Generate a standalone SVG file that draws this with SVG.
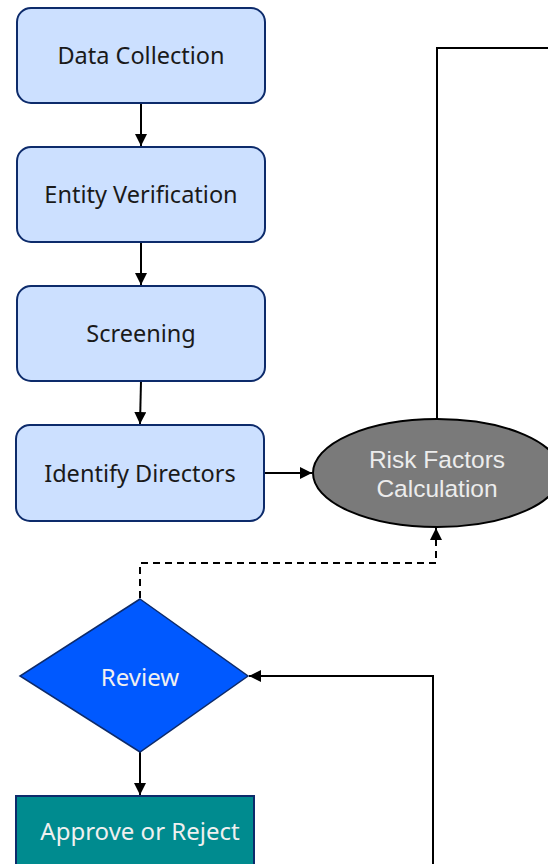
<svg xmlns="http://www.w3.org/2000/svg" width="548" height="864" viewBox="0 0 548 864">
<style>
.box{fill:#cce0ff;stroke:#0d2b6b;stroke-width:2}
.t{font-family:"Noto Sans","Liberation Sans",Arial,sans-serif;font-size:23.5px;text-anchor:middle;dominant-baseline:central}
.dk{fill:#1a1a1a}
.lt{fill:#f0f0f0;font-size:24px}
.el{font-family:"Liberation Sans",Arial,sans-serif;font-size:24.5px;fill:#ececec}
.c{fill:none;stroke:#000;stroke-width:2}
.d{stroke-dasharray:7,5}
</style>
<defs>
<marker id="ah" markerWidth="12" markerHeight="12" refX="12" refY="6" orient="auto" markerUnits="userSpaceOnUse"><path d="M0,0 L12,6 L0,12 z" fill="#000"/></marker>
</defs>
<rect width="548" height="864" fill="#fff"/>
<g id="connectors">
<line class="c" x1="141" y1="103" x2="141" y2="146" marker-end="url(#ah)"/>
<line class="c" x1="141" y1="242" x2="141" y2="285" marker-end="url(#ah)"/>
<line class="c" x1="141" y1="381" x2="140" y2="424" marker-end="url(#ah)"/>
<line class="c" x1="264" y1="473" x2="312" y2="473" marker-end="url(#ah)"/>
<polyline class="c" points="437,419 437,48 548,48"/>
<polyline class="c d" points="140,598 140,563 436,563 436,528" marker-end="url(#ah)"/>
<line class="c" x1="140" y1="752" x2="140" y2="795" marker-end="url(#ah)"/>
<polyline class="c" points="433,864 433,676 249,676" marker-end="url(#ah)"/>
</g>
<g id="data-collection"><rect class="box" x="17" y="8" width="248" height="95" rx="14"/><text class="t dk" x="141" y="55">Data Collection</text></g>
<g id="entity-verification"><rect class="box" x="17" y="147" width="248" height="95" rx="14"/><text class="t dk" x="141" y="194">Entity Verification</text></g>
<g id="screening"><rect class="box" x="17" y="286" width="248" height="95" rx="14"/><text class="t dk" x="141" y="333">Screening</text></g>
<g id="identify-directors"><rect class="box" x="16" y="425" width="248" height="96" rx="14"/><text class="t dk" x="140" y="473">Identify Directors</text></g>
<g id="risk-factors"><ellipse cx="437" cy="473" rx="124" ry="54" fill="#7a7a7a" stroke="#000" stroke-width="2"/><text class="t el" x="437" y="459">Risk Factors</text><text class="t el" x="437" y="488">Calculation</text></g>
<g id="review"><polygon points="140,599 248,676 140,752 20,676" fill="#0059ff" stroke="#0d2b6b" stroke-width="1.5"/><text class="t lt" x="140" y="676">Review</text></g>
<g id="approve"><rect x="16" y="796" width="238" height="80" fill="#008b8f" stroke="#0d2b6b" stroke-width="2"/><text class="t lt" x="140" y="830">Approve or Reject</text></g>
</svg>
